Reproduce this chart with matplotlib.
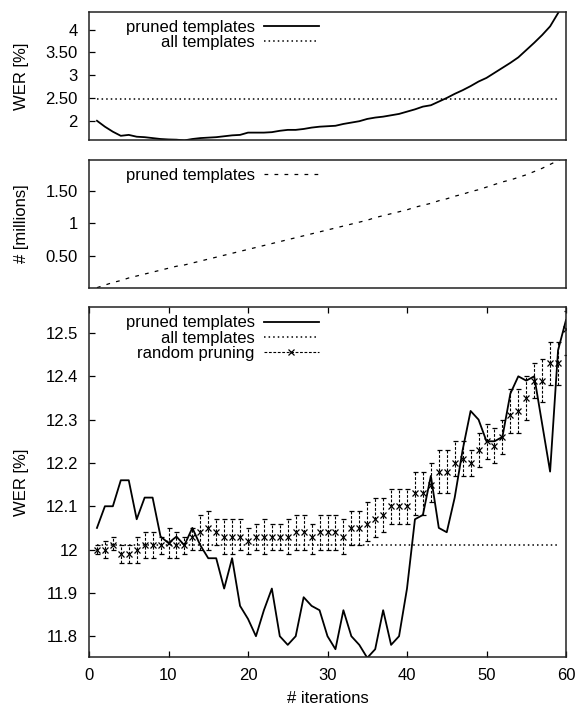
import numpy as np
import matplotlib
matplotlib.use("Agg")
import matplotlib.pyplot as plt
from matplotlib.lines import Line2D

plt.rcParams['font.family'] = ['Liberation Sans', 'DejaVu Sans']
plt.rcParams['font.size'] = 12

# iterations
iters = list(range(1, 61))

# top panel: WER on the pruned templates vs all templates
wer_top_pruned = [2.00, 1.87, 1.76, 1.67, 1.69, 1.65, 1.64, 1.62, 1.60, 1.59,
                  1.585, 1.57, 1.60, 1.62, 1.63, 1.64, 1.66, 1.68, 1.69, 1.74,
                  1.74, 1.74, 1.75, 1.78, 1.80, 1.80, 1.82, 1.85, 1.87, 1.88,
                  1.89, 1.93, 1.96, 1.99, 2.04, 2.07, 2.09, 2.12, 2.15, 2.20,
                  2.25, 2.31, 2.34, 2.42, 2.50, 2.59, 2.67, 2.76, 2.86, 2.94,
                  3.05, 3.16, 3.27, 3.39, 3.55, 3.71, 3.88, 4.07, 4.36, 4.70]
wer_top_all = 2.47

# middle panel: number of pruned templates (millions)
n_templates = [0.01, 0.05, 0.09, 0.12, 0.16, 0.19, 0.22, 0.25, 0.28, 0.31,
               0.34, 0.36, 0.39, 0.42, 0.45, 0.48, 0.51, 0.54, 0.57, 0.60,
               0.63, 0.66, 0.69, 0.72, 0.75, 0.78, 0.81, 0.84, 0.87, 0.90,
               0.93, 0.96, 0.99, 1.02, 1.05, 1.09, 1.12, 1.15, 1.18, 1.21,
               1.25, 1.28, 1.31, 1.35, 1.38, 1.42, 1.45, 1.49, 1.52, 1.56,
               1.60, 1.64, 1.67, 1.71, 1.75, 1.80, 1.85, 1.91, 1.97, 2.03]

# bottom panel: WER on test data
wer_pruned = [12.05, 12.10, 12.10, 12.16, 12.16, 12.07, 12.12, 12.12, 12.03, 12.015,
              12.03, 12.01, 12.05, 12.01, 11.98, 11.98, 11.91, 11.98, 11.87, 11.84,
              11.80, 11.86, 11.91, 11.80, 11.78, 11.80, 11.89, 11.87, 11.86, 11.80,
              11.77, 11.86, 11.80, 11.78, 11.75, 11.77, 11.86, 11.78, 11.80, 11.91,
              12.07, 12.08, 12.17, 12.05, 12.04, 12.12, 12.23, 12.32, 12.30, 12.25,
              12.25, 12.26, 12.36, 12.40, 12.39, 12.40, 12.29, 12.18, 12.46, 12.53]
wer_all = 12.01
rand_mean = [12.00, 12.00, 12.01, 11.99, 11.99, 12.00, 12.01, 12.01, 12.01, 12.015,
             12.01, 12.01, 12.03, 12.04, 12.05, 12.04, 12.03, 12.03, 12.03, 12.02,
             12.03, 12.03, 12.03, 12.03, 12.03, 12.04, 12.04, 12.03, 12.04, 12.04,
             12.04, 12.03, 12.05, 12.05, 12.06, 12.07, 12.08, 12.10, 12.10, 12.10,
             12.13, 12.13, 12.15, 12.18, 12.18, 12.20, 12.21, 12.20, 12.23, 12.25,
             12.24, 12.26, 12.31, 12.32, 12.35, 12.39, 12.39, 12.43, 12.43, 12.51]
rand_low = [11.99, 11.98, 12.00, 11.97, 11.97, 11.97, 11.98, 11.98, 11.99, 11.98,
            11.98, 11.99, 12.00, 12.00, 12.00, 12.01, 11.99, 11.99, 12.00, 11.99,
            12.00, 11.99, 12.00, 12.00, 11.99, 12.00, 12.00, 11.99, 12.00, 12.00,
            12.00, 11.99, 12.01, 12.01, 12.02, 12.03, 12.04, 12.06, 12.06, 12.06,
            12.08, 12.08, 12.11, 12.13, 12.13, 12.17, 12.17, 12.17, 12.19, 12.21,
            12.20, 12.22, 12.27, 12.27, 12.30, 12.35, 12.34, 12.38, 12.38, 12.45]
rand_high = [12.01, 12.02, 12.03, 12.01, 12.01, 12.03, 12.04, 12.04, 12.03, 12.05,
             12.04, 12.03, 12.05, 12.08, 12.09, 12.07, 12.07, 12.07, 12.07, 12.05,
             12.06, 12.07, 12.06, 12.06, 12.07, 12.08, 12.08, 12.06, 12.08, 12.08,
             12.08, 12.07, 12.09, 12.09, 12.11, 12.12, 12.12, 12.14, 12.14, 12.14,
             12.18, 12.18, 12.20, 12.23, 12.23, 12.25, 12.25, 12.23, 12.27, 12.29,
             12.28, 12.30, 12.37, 12.37, 12.40, 12.43, 12.44, 12.48, 12.48, 12.55]

x = np.array(iters)
mean = np.array(rand_mean)
yerr = [mean - np.array(rand_low), np.array(rand_high) - mean]

W, H = 578, 706
fig = plt.figure(figsize=(W / 100, H / 100), dpi=100)


def box(left, top, right, bottom):
    return [left / W, 1 - bottom / H, (right - left) / W, (bottom - top) / H]


ax1 = fig.add_axes(box(89, 12, 566, 140))
ax2 = fig.add_axes(box(89, 160, 566, 288))
ax3 = fig.add_axes(box(89, 307, 566, 657))

dots = (0, (1, 2))


def right_legend(ax, handles, labels, ytop):
    leg = ax.legend(handles, labels, loc='upper right', bbox_to_anchor=(0.482, ytop),
                    frameon=False, markerfirst=False, borderpad=0, borderaxespad=0,
                    handlelength=3.3, handletextpad=0.55, labelspacing=0.02,
                    fontsize=12)
    # right-align the rows like gnuplot's key
    for col in leg._legend_handle_box.get_children():
        col.align = 'right'
    return leg


# ---- top panel
l1, = ax1.plot(x, wer_top_pruned, color='black', lw=1.3)
l2, = ax1.plot(x[:-1], [wer_top_all] * (len(x) - 1), color='black', lw=1.1, ls=dots)
ax1.set_xlim(0, 60)
ax1.set_ylim(1.578, 4.385)
ax1.set_yticks([2, 2.5, 3, 3.5, 4])
ax1.set_yticklabels(['2', '2.50', '3', '3.50', '4'])
ax1.set_ylabel('WER [%]')
right_legend(ax1, [l1, l2], ['pruned templates', 'all templates'], 0.94)

# ---- middle panel
l3, = ax2.plot(x, n_templates, color='black', lw=0.9, ls=(0, (3, 5)))
ax2.set_xlim(0, 60)
ax2.set_ylim(0.005, 1.978)
ax2.set_yticks([0.5, 1, 1.5])
ax2.set_yticklabels(['0.50', '1', '1.50'])
ax2.set_ylabel('# [millions]')
right_legend(ax2, [l3], ['pruned templates'], 0.935)

# ---- bottom panel
l4, = ax3.plot(x, wer_pruned, color='black', lw=1.3)
l5, = ax3.plot(x[:-1], [wer_all] * (len(x) - 1), color='black', lw=1.1, ls=dots)
eb = ax3.errorbar(x, mean, yerr=yerr, fmt='x', color='black', ms=4, mew=0.9,
                  elinewidth=0.8, capsize=1.8, capthick=0.8)
eb[2][0].set_linestyle((0, (2.5, 1.5)))
ax3.set_xlim(0, 60)
ax3.set_ylim(11.752, 12.56)
ax3.set_yticks([11.8, 11.9, 12, 12.1, 12.2, 12.3, 12.4, 12.5])
ax3.set_yticklabels(['11.8', '11.9', '12', '12.1', '12.2', '12.3', '12.4', '12.5'])
ax3.set_xticks([0, 10, 20, 30, 40, 50, 60])
ax3.set_xlabel('# iterations', labelpad=6)
ax3.set_ylabel('WER [%]')
rp = Line2D([], [], color='black', lw=0.8, ls=(0, (2.5, 1.5)), marker='x', ms=4, mew=0.9)
right_legend(ax3, [l4, l5, rp], ['pruned templates', 'all templates', 'random pruning'], 0.976)

for ax in (ax1, ax2, ax3):
    for s in ax.spines.values():
        s.set_linewidth(1.1)
        s.set_color('#222222')
    ax.tick_params(direction='in', length=4, width=0.9, right=False)
    ax.tick_params(axis='y', pad=8)
    ax.yaxis.set_label_coords(-0.125, 0.5)
for ax in (ax1, ax2):
    ax.tick_params(axis='x', bottom=False, labelbottom=False)
ax3.tick_params(axis='x', top=True, pad=8)

fig.savefig('out.png', dpi=100)
